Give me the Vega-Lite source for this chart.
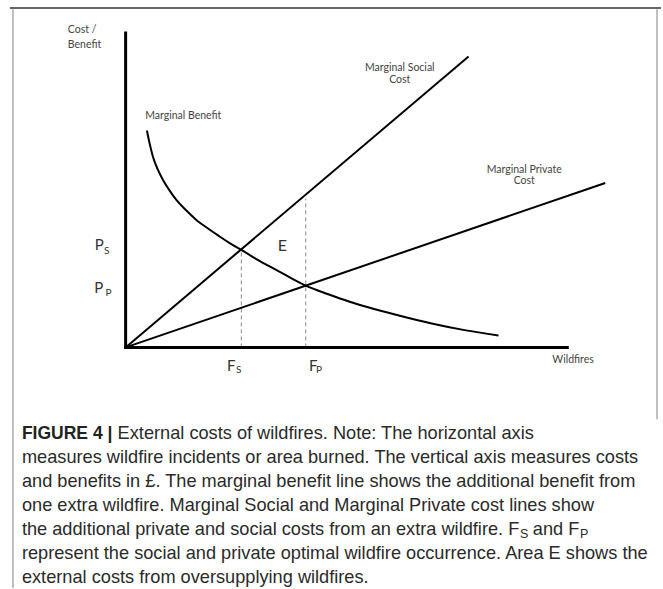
{
  "$schema": "https://vega.github.io/schema/vega-lite/v6.json",
  "width": 663,
  "height": 589,
  "padding": 0,
  "autosize": {"type": "fit", "contains": "padding"},
  "background": "white",
  "config": {"view": {"stroke": null}},
  "datasets": {
    "frameTop": [{"x": -26.19, "y": 107.94, "x2": 121.22, "y2": 107.94}],
    "frameSides": [
      {"x": -25.51, "y": 107.5, "x2": -25.51, "y2": -76.51},
      {"x": 120.32, "y": 107.5, "x2": 120.32, "y2": -22.86}
    ],
    "axes": [
      {"x": 0, "y": 0, "x2": 0, "y2": 100},
      {"x": 0, "y": 0, "x2": 100, "y2": 0}
    ],
    "dashes": [
      {"x": 26.2, "y": 0, "x2": 26.2, "y2": 31.1},
      {"x": 40.79, "y": 0, "x2": 40.79, "y2": 47.3}
    ],
    "costs": [
      {"series": "Marginal Social Cost", "x": 0, "y": 0},
      {"series": "Marginal Social Cost", "x": 77.65, "y": 92.5},
      {"series": "Marginal Private Cost", "x": 0, "y": 0},
      {"series": "Marginal Private Cost", "x": 108.6, "y": 52.3}
    ],
    "benefit": [
      {"x": 4.82, "y": 68.99}, {"x": 5.42, "y": 64.97}, {"x": 6.17, "y": 60.74},
      {"x": 7.3, "y": 56.51}, {"x": 8.43, "y": 53.33}, {"x": 9.93, "y": 49.95},
      {"x": 11.44, "y": 46.98}, {"x": 13.7, "y": 43.6}, {"x": 15.95, "y": 40.63},
      {"x": 18.59, "y": 37.88}, {"x": 21.22, "y": 35.34}, {"x": 23.48, "y": 33.23},
      {"x": 26.2, "y": 31.05}, {"x": 29.5, "y": 28.15}, {"x": 32.51, "y": 25.82},
      {"x": 36.27, "y": 22.96}, {"x": 40.79, "y": 19.65}, {"x": 46.05, "y": 16.83},
      {"x": 50.56, "y": 14.6}, {"x": 61.85, "y": 10.16}, {"x": 69.3, "y": 7.62},
      {"x": 76.75, "y": 5.5}, {"x": 84.42, "y": 3.81}
    ],
    "labelsLeft": [
      {"x": -13.09, "y": 100.95, "label": "Cost /"},
      {"x": -13.09, "y": 96.3, "label": "Benefit"},
      {"x": 4.45, "y": 73.65, "label": "Marginal Benefit"},
      {"x": 96.61, "y": -4.03, "label": "Wildfires"}
    ],
    "labelsCenter": [
      {"x": 62.08, "y": 88.79, "label": "Marginal Social"},
      {"x": 62.08, "y": 85.08, "label": "Cost"},
      {"x": 90.25, "y": 56.51, "label": "Marginal Private"},
      {"x": 90.25, "y": 52.79, "label": "Cost"}
    ],
    "bigLetters": [
      {"x": -7.0, "y": 32.7, "label": "P"},
      {"x": -7.1, "y": 18.95, "label": "P"},
      {"x": 22.96, "y": -5.94, "label": "F"},
      {"x": 41.53, "y": -5.94, "label": "F"}
    ],
    "subLetters": [
      {"x": -4.9, "y": 30.57, "label": "S"},
      {"x": -4.56, "y": 17.37, "label": "P"},
      {"x": 24.99, "y": -7.2, "label": "S"},
      {"x": 43.12, "y": -7.2, "label": "P"}
    ],
    "area": [{"x": 35.51, "y": 32.38, "label": "E"}],
    "captionBold": [{"x": -23.48, "y": -27.62, "label": "FIGURE 4 |"}],
    "caption": [
      {"x": -1.81, "y": -27.62, "label": "External costs of wildfires. Note: The horizontal axis"},
      {"x": -23.48, "y": -35.24, "label": "measures wildfire incidents or area burned. The vertical axis measures costs"},
      {"x": -23.48, "y": -42.86, "label": "and benefits in £. The marginal benefit line shows the additional benefit from"},
      {"x": -23.48, "y": -50.48, "label": "one extra wildfire. Marginal Social and Marginal Private cost lines show"},
      {"x": -23.48, "y": -58.1, "label": "the additional private and social costs from an extra wildfire. F"},
      {"x": 92.2, "y": -58.1, "label": "and F"},
      {"x": -23.48, "y": -65.72, "label": "represent the social and private optimal wildfire occurrence. Area E shows the"},
      {"x": -23.48, "y": -73.34, "label": "external costs from oversupplying wildfires."}
    ],
    "captionSub": [
      {"x": 89.3, "y": -59.4, "label": "S"},
      {"x": 102.9, "y": -59.4, "label": "P"}
    ]
  },
  "layer": [
    {
      "data": {"name": "frameTop"},
      "mark": {"type": "rule", "color": "#666666", "strokeWidth": 2},
      "encoding": {
        "x": {"field": "x", "type": "quantitative", "scale": {"domain": [-28.442, 121.219], "nice": false, "zero": false}, "axis": null},
        "y": {"field": "y", "type": "quantitative", "scale": {"domain": [-76.508, 110.476], "nice": false, "zero": false}, "axis": null},
        "x2": {"field": "x2"},
        "y2": {"field": "y2"}
      }
    },
    {
      "data": {"name": "frameSides"},
      "mark": {"type": "rule", "color": "#aaaaaa", "strokeWidth": 1.5},
      "encoding": {
        "x": {"field": "x", "type": "quantitative", "scale": {"domain": [-28.442, 121.219], "nice": false, "zero": false}, "axis": null},
        "y": {"field": "y", "type": "quantitative", "scale": {"domain": [-76.508, 110.476], "nice": false, "zero": false}, "axis": null},
        "x2": {"field": "x2"},
        "y2": {"field": "y2"}
      }
    },
    {
      "data": {"name": "dashes"},
      "mark": {"type": "rule", "color": "#888888", "strokeWidth": 1, "strokeDash": [4, 3]},
      "encoding": {
        "x": {"field": "x", "type": "quantitative", "scale": {"domain": [-28.442, 121.219], "nice": false, "zero": false}, "axis": null},
        "y": {"field": "y", "type": "quantitative", "scale": {"domain": [-76.508, 110.476], "nice": false, "zero": false}, "axis": null},
        "x2": {"field": "x2"},
        "y2": {"field": "y2"}
      }
    },
    {
      "data": {"name": "costs"},
      "mark": {"type": "line", "color": "black", "strokeWidth": 2},
      "encoding": {
        "x": {"field": "x", "type": "quantitative", "scale": {"domain": [-28.442, 121.219], "nice": false, "zero": false}, "axis": null},
        "y": {"field": "y", "type": "quantitative", "scale": {"domain": [-76.508, 110.476], "nice": false, "zero": false}, "axis": null},
        "detail": {"field": "series", "type": "nominal"}
      }
    },
    {
      "data": {"name": "benefit"},
      "mark": {"type": "line", "color": "black", "strokeWidth": 2, "interpolate": "monotone"},
      "encoding": {
        "x": {"field": "x", "type": "quantitative", "scale": {"domain": [-28.442, 121.219], "nice": false, "zero": false}, "axis": null},
        "y": {"field": "y", "type": "quantitative", "scale": {"domain": [-76.508, 110.476], "nice": false, "zero": false}, "axis": null}
      }
    },
    {
      "data": {"name": "axes"},
      "mark": {"type": "rule", "color": "black", "strokeWidth": 3, "strokeCap": "square"},
      "encoding": {
        "x": {"field": "x", "type": "quantitative", "scale": {"domain": [-28.442, 121.219], "nice": false, "zero": false}, "axis": null},
        "y": {"field": "y", "type": "quantitative", "scale": {"domain": [-76.508, 110.476], "nice": false, "zero": false}, "axis": null},
        "x2": {"field": "x2"},
        "y2": {"field": "y2"}
      }
    },
    {
      "data": {"name": "labelsLeft"},
      "mark": {"type": "text", "align": "left", "baseline": "middle", "font": "Lato", "fontSize": 10.5, "color": "#444444"},
      "encoding": {
        "x": {"field": "x", "type": "quantitative", "scale": {"domain": [-28.442, 121.219], "nice": false, "zero": false}, "axis": null},
        "y": {"field": "y", "type": "quantitative", "scale": {"domain": [-76.508, 110.476], "nice": false, "zero": false}, "axis": null},
        "text": {"field": "label"}
      }
    },
    {
      "data": {"name": "labelsCenter"},
      "mark": {"type": "text", "align": "center", "baseline": "middle", "font": "Lato", "fontSize": 10.5, "color": "#444444"},
      "encoding": {
        "x": {"field": "x", "type": "quantitative", "scale": {"domain": [-28.442, 121.219], "nice": false, "zero": false}, "axis": null},
        "y": {"field": "y", "type": "quantitative", "scale": {"domain": [-76.508, 110.476], "nice": false, "zero": false}, "axis": null},
        "text": {"field": "label"}
      }
    },
    {
      "data": {"name": "bigLetters"},
      "mark": {"type": "text", "align": "left", "baseline": "middle", "font": "Lato", "fontSize": 15, "color": "#333333"},
      "encoding": {
        "x": {"field": "x", "type": "quantitative", "scale": {"domain": [-28.442, 121.219], "nice": false, "zero": false}, "axis": null},
        "y": {"field": "y", "type": "quantitative", "scale": {"domain": [-76.508, 110.476], "nice": false, "zero": false}, "axis": null},
        "text": {"field": "label"}
      }
    },
    {
      "data": {"name": "subLetters"},
      "mark": {"type": "text", "align": "left", "baseline": "middle", "font": "Lato", "fontSize": 10, "color": "#333333"},
      "encoding": {
        "x": {"field": "x", "type": "quantitative", "scale": {"domain": [-28.442, 121.219], "nice": false, "zero": false}, "axis": null},
        "y": {"field": "y", "type": "quantitative", "scale": {"domain": [-76.508, 110.476], "nice": false, "zero": false}, "axis": null},
        "text": {"field": "label"}
      }
    },
    {
      "data": {"name": "area"},
      "mark": {"type": "text", "align": "center", "baseline": "middle", "font": "Lato", "fontSize": 16, "color": "#333333"},
      "encoding": {
        "x": {"field": "x", "type": "quantitative", "scale": {"domain": [-28.442, 121.219], "nice": false, "zero": false}, "axis": null},
        "y": {"field": "y", "type": "quantitative", "scale": {"domain": [-76.508, 110.476], "nice": false, "zero": false}, "axis": null},
        "text": {"field": "label"}
      }
    },
    {
      "data": {"name": "captionBold"},
      "mark": {"type": "text", "align": "left", "baseline": "middle", "font": "Liberation Sans", "fontSize": 17.5, "fontWeight": "bold", "color": "#222222"},
      "encoding": {
        "x": {"field": "x", "type": "quantitative", "scale": {"domain": [-28.442, 121.219], "nice": false, "zero": false}, "axis": null},
        "y": {"field": "y", "type": "quantitative", "scale": {"domain": [-76.508, 110.476], "nice": false, "zero": false}, "axis": null},
        "text": {"field": "label"}
      }
    },
    {
      "data": {"name": "caption"},
      "mark": {"type": "text", "align": "left", "baseline": "middle", "font": "Liberation Sans", "fontSize": 18.2, "color": "#2a2a2a"},
      "encoding": {
        "x": {"field": "x", "type": "quantitative", "scale": {"domain": [-28.442, 121.219], "nice": false, "zero": false}, "axis": null},
        "y": {"field": "y", "type": "quantitative", "scale": {"domain": [-76.508, 110.476], "nice": false, "zero": false}, "axis": null},
        "text": {"field": "label"}
      }
    },
    {
      "data": {"name": "captionSub"},
      "mark": {"type": "text", "align": "left", "baseline": "middle", "font": "Liberation Sans", "fontSize": 12.5, "color": "#2a2a2a"},
      "encoding": {
        "x": {"field": "x", "type": "quantitative", "scale": {"domain": [-28.442, 121.219], "nice": false, "zero": false}, "axis": null},
        "y": {"field": "y", "type": "quantitative", "scale": {"domain": [-76.508, 110.476], "nice": false, "zero": false}, "axis": null},
        "text": {"field": "label"}
      }
    }
  ]
}
